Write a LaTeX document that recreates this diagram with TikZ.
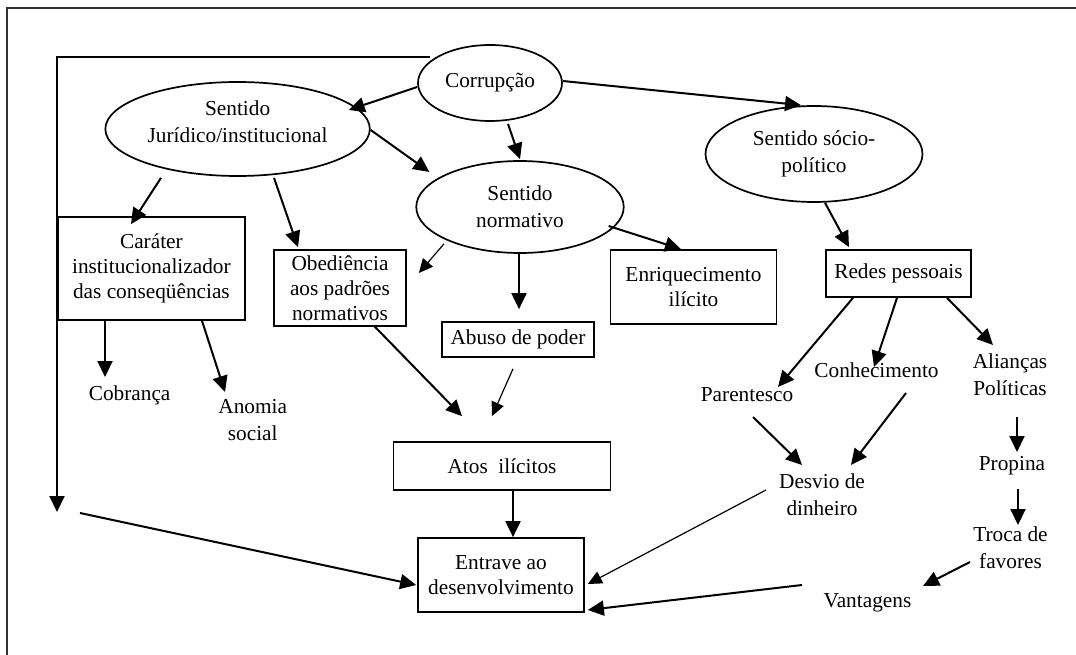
\documentclass[tikz,border=0pt]{standalone}
\usepackage{fontspec}
\setmainfont{Liberation Serif}
\usetikzlibrary{arrows.meta,shapes.geometric,calc}
\begin{document}
\begin{tikzpicture}[x=1pt,y=-1pt,
  txt/.style={font=\fontsize{21.3}{27}\selectfont, align=center, inner sep=0pt},
  ell/.style={txt, draw, ellipse, line width=1.7pt, inner xsep=-25pt, inner ysep=0pt},
  box/.style={txt, font=\fontsize{21.3}{25}\selectfont, draw, rectangle, line width=1.7pt},
  arr/.style={line width=2pt, -{Triangle[length=16pt,width=15pt]}},
  tarr/.style={line width=1.2pt, -{Triangle[length=14pt,width=13pt]}},
  frame/.style={line width=2pt, black!80}]
\useasboundingbox (0,0) rectangle (1076,655);
\draw[frame] (7,655) -- (7,8) -- (1076,8);

% ellipses
\node[ell, minimum width=144pt, minimum height=76pt] (cor) at (490,83) {Corrupção};
\node[ell, minimum width=264.5pt, minimum height=94pt,
      label={[txt, yshift=7pt]center:Sentido\\Jurídico/institucional}] (jur) at (237.6,129) {};
\node[ell, minimum width=207.5pt, minimum height=92pt] (nor) at (520,207) {Sentido\\normativo};
\node[ell, minimum width=217pt, minimum height=96pt] (soc) at (814,154) {Sentido sócio-\\político};

% boxes
\node[box, minimum width=187pt, minimum height=103pt] (car) at (151.4,268.5) {Caráter\\institucionalizador\\das conseqüências};
\node[box, minimum width=132pt, minimum height=76pt] (obe) at (340,288) {Obediência\\aos padrões\\normativos};
\node[box, minimum width=152pt, minimum height=35pt] (abu) at (518,339.5) {Abuso de poder};
\node[box, minimum width=166pt, minimum height=74pt] (enr) at (693.5,287) {Enriquecimento\\ilícito};
\node[box, minimum width=145pt, minimum height=47pt] (red) at (898.5,273.5) {Redes pessoais};
\node[box, minimum width=217pt, minimum height=48pt] (ato) at (502,466) {Atos \ ilícitos};
\node[box, minimum width=166pt, minimum height=74pt] (ent) at (501,575) {Entrave ao\\desenvolvimento};

% plain texts
\node[txt] (cob) at (129.6,395) {Cobrança};
\node[txt] (ano) at (252.7,420) {Anomia\\social};
\node[txt] (par) at (747,395) {Parentesco};
\node[txt] (con) at (876.5,370) {Conhecimento};
\node[txt] (ali) at (1010,374.5) {Alianças\\Políticas};
\node[txt] (pro) at (1012,466) {Propina};
\node[txt] (tro) at (1010.5,548) {Troca de\\favores};
\node[txt] (des) at (822,494.5) {Desvio de\\dinheiro};
\node[txt] (van) at (867.5,603) {Vantagens};

\coordinate (loopend) at (57,512);
\coordinate (freestart) at (80,513);

% connectors
\draw[arr] ($(cor.west)+(13,-26)$) -| (loopend);
\draw[arr] (freestart) -- ($(ent.west)+(-1,10)$);
\draw[arr] ($(cor.west)+(0,4)$) -- ($(jur.east)+(-22,-19)$);
\draw[arr] ($(cor.south)+(18,2)$) -- ($(nor.north)+(0,-1)$);
\draw[arr] ($(cor.east)+(0,-2)$) -- ($(soc.north)+(-13,0)$);
\draw[arr] ($(jur.east)+(0,1)$) -- ($(nor.west)+(14,-35)$);
\draw[arr] ($(jur.south)+(-76.6,1)$) -- ($(car.north)+(-20.4,8)$);
\draw[arr] ($(jur.south)+(36.4,1)$) -- ($(obe.north)+(-42,-2)$);
\draw[tarr] ($(nor.south)+(-76,-10)$) -- ($(obe.east)+(12,-15)$);
\draw[arr] ($(nor.south)+(-1,0)$) -- ($(abu.north)+(1,-12)$);
\draw[arr] ($(nor.east)+(-16,19)$) -- ($(enr.north)+(-12.5,0)$);
\draw[arr] ($(soc.south)+(11,0)$) -- ($(red.north)+(-49.5,-2)$);
\draw[arr] ($(car.south)+(-46.4,0)$) -- ($(cob)+(-24.6,-18)$);
\draw[arr] ($(car.south)+(50.6,0)$) -- ($(ano)+(-27.7,-28)$);
\draw[arr] ($(obe.south)+(34,-1)$) -- ($(ato.north)+(-40,-25)$);
\draw[tarr] ($(abu.south)+(-5,11)$) -- ($(ato.north)+(-10,-25)$);
\draw[arr] ($(ato.south)+(11,0)$) -- ($(ent.north)+(12,0)$);
\draw[arr] ($(red.south)+(-45.5,0)$) -- ($(par)+(31,-8)$);
\draw[arr] ($(red.south)+(-1.5,0)$) -- ($(con)+(-2.5,-3)$);
\draw[arr] ($(red.south)+(48.5,0)$) -- ($(ali)+(-17,-29.5)$);
\draw[arr] ($(par)+(6,22)$) -- ($(des)+(-20,-29.5)$);
\draw[arr] ($(con)+(29.5,23)$) -- ($(des)+(29,-29.5)$);
\draw[arr] ($(ali)+(7,42.5)$) -- ($(pro)+(5,-14)$);
\draw[arr] ($(pro)+(6,23)$) -- ($(tro)+(7.5,-23)$);
\draw[arr] ($(tro)+(-40.5,14)$) -- ($(van)+(55.5,-17)$);
\draw[tarr] ($(des)+(-56,-4.5)$) -- ($(ent.east)+(3,9)$);
\draw[arr] ($(van)+(-65.5,-18)$) -- ($(ent.east)+(3,35)$);
\end{tikzpicture}
\end{document}
